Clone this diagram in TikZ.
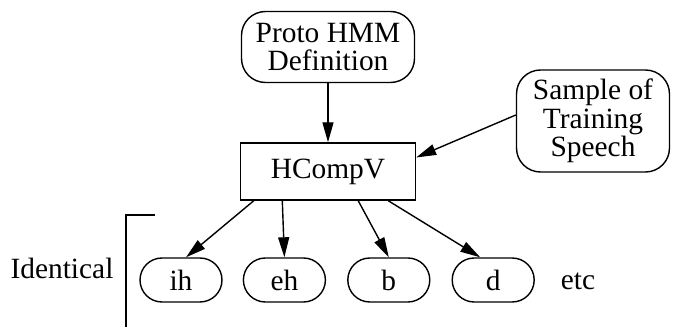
\documentclass[tikz,border=0pt]{standalone}
\usepackage{fontspec}
\setmainfont{Liberation Serif}
\usetikzlibrary{positioning,arrows.meta}

\begin{document}
\begin{tikzpicture}[
    txt/.style={font=\fontsize{14.7}{14.3}\selectfont},
    box/.style={draw, line width=0.7pt, align=center, inner sep=0pt, txt},
    rbox/.style={box, rounded corners=12pt},
    pill/.style={box, rounded corners=11pt, minimum width=41pt, minimum height=22pt},
    arrow/.style={-{Triangle[length=10pt,width=5.5pt]}, line width=0.7pt}
  ]
  \useasboundingbox (0,0) rectangle (340.5pt,163.5pt);
  \node[rbox, minimum width=86.5pt, minimum height=35.5pt] (proto) at (164pt,140pt) {Proto HMM\\Definition};
  \node[rbox, minimum width=76.5pt, minimum height=51pt] (sample) at (296.5pt,103pt) {Sample of\\Training\\Speech};
  \node[box, minimum width=87.5pt, minimum height=28.5pt] (hcomp) at (164pt,77.75pt) {HCompV};
  % models
  \node[pill] (ih) at (90.5pt,23.5pt) {ih};
  \node[pill, right=10pt of ih] (eh) {eh};
  \node[pill, right=10.5pt of eh] (b) {b};
  \node[pill, right=10.5pt of b] (d) {d};
  \node[txt] (etc) at (289pt,23pt) {etc};
  \node[txt] (ident) at (31pt,29.5pt) {Identical};
  \coordinate (brtop) at (63pt,56pt);
  \coordinate (brbot) at (63pt,0pt);
  \draw[line width=0.7pt] (77.5pt,56pt) -- (brtop) -- (brbot);
  % connectors
  \draw[arrow] (proto) -- (hcomp);
  \draw[arrow] ([yshift=3pt]sample.west) -- ([yshift=7pt]hcomp.east);
  \draw[arrow] ([xshift=7pt]hcomp.south west) -- ([xshift=2.5pt]ih.north);
  \draw[arrow] ([xshift=21.25pt]hcomp.south west) -- (eh.north);
  \draw[arrow] ([xshift=-29pt]hcomp.south east) -- (b.north);
  \draw[arrow] ([xshift=-14pt]hcomp.south east) -- ([xshift=-6.5pt]d.north);
\end{tikzpicture}
\end{document}
